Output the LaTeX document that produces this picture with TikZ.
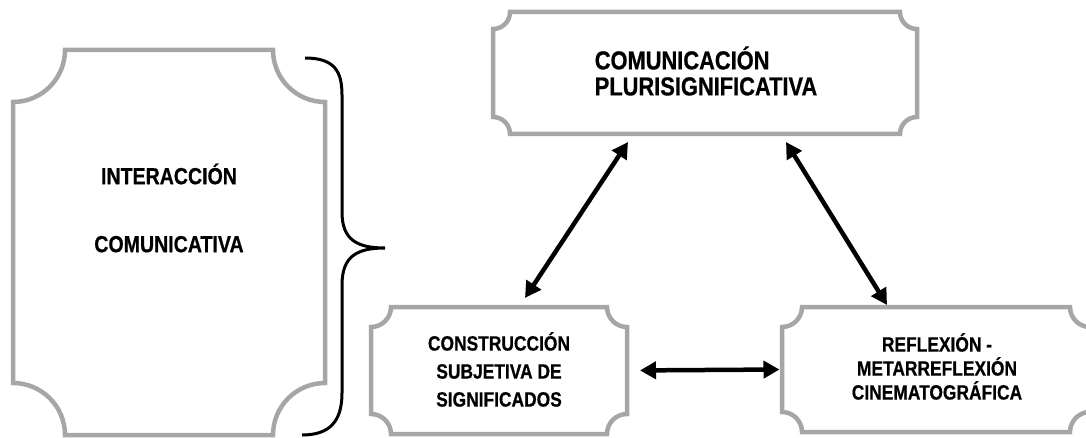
\documentclass[tikz,border=0pt]{standalone}
\usepackage{fontspec}
\setmainfont{Liberation Sans}[FakeStretch=0.84, BoldFeatures={FakeBold=0.6}]
\usetikzlibrary{arrows.meta,calc}
\definecolor{boxgray}{RGB}{166,166,166}
\tikzset{
  plaquebox/.style={draw=none, inner sep=0pt, outer sep=0pt},
  plaqueline/.style={draw=boxgray, line width=4.5pt},
  boxtext/.style={align=center, inner sep=0pt},
  link/.style={line width=4.5pt, {Triangle[length=16pt,width=17pt]}-{Triangle[length=16pt,width=17pt]}},
  bracestyle/.style={line width=3pt},
}
\newcommand\plaquedraw[2]{%
  \draw[plaqueline] let \p1=(#1.south west), \p2=(#1.north east) in
    (\x1,\y2-#2) arc[start angle=-90,end angle=0,radius=#2]
    -- (\x2-#2,\y2) arc[start angle=180,end angle=270,radius=#2]
    -- (\x2,\y1+#2) arc[start angle=90,end angle=180,radius=#2]
    -- (\x1+#2,\y1) arc[start angle=0,end angle=90,radius=#2] -- cycle;}
\begin{document}
\begin{tikzpicture}[x=1pt,y=1pt]
\useasboundingbox (0,0) rectangle (1086,437);
% boxes
\node[plaquebox, minimum width=312pt, minimum height=385pt] (inter) at (169,194.5) {};
\node[plaquebox, minimum width=424pt, minimum height=122pt] (comu) at (705,364) {};
\node[plaquebox, minimum width=256pt, minimum height=127pt] (cons) at (499,66.5) {};
\node[plaquebox, minimum width=308pt, minimum height=125pt] (refl) at (936,67.5) {};
\plaquedraw{inter}{52pt}
\plaquedraw{comu}{17pt}
\plaquedraw{cons}{20pt}
\plaquedraw{refl}{20pt}
% texts
\node[boxtext, font=\fontsize{23.3}{28}\selectfont\bfseries] (intertext) at (169,229) {INTERACCIÓN\\[40pt]COMUNICATIVA};
\node[boxtext, align=left, font=\fontsize{26}{26}\selectfont\bfseries] (comutext) at (706,366) {COMUNICACIÓN\\PLURISIGNIFICATIVA};
\node[boxtext, font=\fontsize{20.7}{28}\selectfont\bfseries] (constext) at (499,67.5) {CONSTRUCCIÓN\\SUBJETIVA DE\\SIGNIFICADOS};
\node[boxtext, font=\fontsize{20.7}{24}\selectfont\bfseries] (refltext) at (937,70.5) {REFLEXIÓN -\\METARREFLEXIÓN\\CINEMATOGRÁFICA};
% brace
\draw[bracestyle] (305,379) .. controls (335,379) and (342,365) .. (342,342)
  -- (342,225) .. controls (342,198) and (356,189) .. (385,189)
  .. controls (356,189) and (342,180) .. (342,152)
  -- (342,44) .. controls (342,16) and (330,2) .. (302,2);
% connectors
\draw[link, shorten <=13pt, shorten >=2.5pt] (cons.east) -- (refl.west);
\draw[link] ([xshift=26pt,yshift=9pt]cons.north) -- ([xshift=-77pt,yshift=-8pt]comu.south);
\draw[link] ([xshift=81pt,yshift=-8pt]comu.south) -- ([xshift=-49pt,yshift=2pt]refl.north);
\end{tikzpicture}
\end{document}
